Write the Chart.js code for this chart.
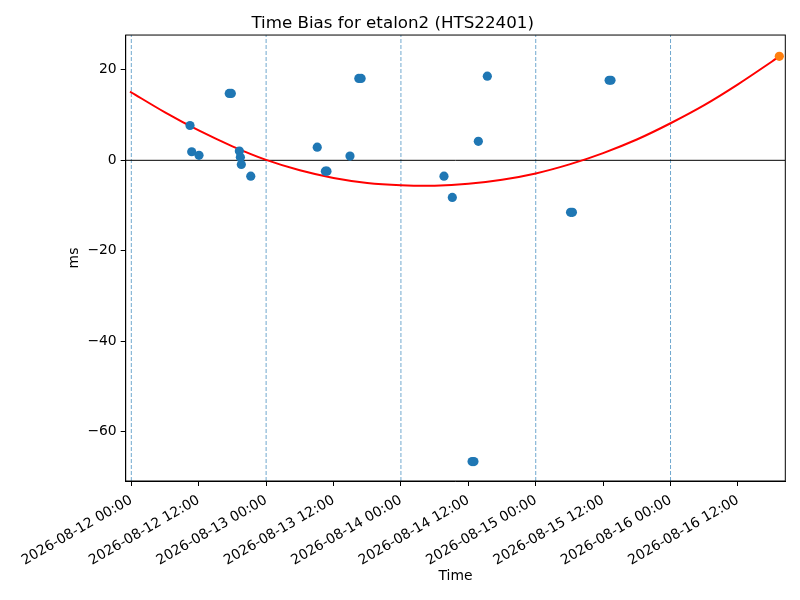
<!DOCTYPE html>
<html lang="en">
  <head>
    <meta charset="UTF-8" />
    <title>Time Bias for etalon2 (HTS22401)</title>
    <script src="https://cdn.jsdelivr.net/npm/chart.js"></script>
    <style>
      html, body { margin: 0; padding: 0; background: #fff; }
    </style>
  </head>
  <body>
    <canvas id="biasChart" width="800" height="600"></canvas>
    <script>
      // measured time bias samples (blue)
      var sampleTimes = [
        "2026-08-12 10:27", "2026-08-12 10:45", "2026-08-12 12:03",
        "2026-08-12 17:26", "2026-08-12 17:48", "2026-08-12 19:14",
        "2026-08-12 19:25", "2026-08-12 19:35", "2026-08-12 21:16",
        "2026-08-13 09:06", "2026-08-13 10:33", "2026-08-13 10:50",
        "2026-08-13 14:56", "2026-08-13 16:30", "2026-08-13 16:55",
        "2026-08-14 07:40", "2026-08-14 09:09", "2026-08-14 12:40",
        "2026-08-14 13:00", "2026-08-14 13:47", "2026-08-14 15:23",
        "2026-08-15 06:12", "2026-08-15 06:32", "2026-08-15 13:04",
        "2026-08-15 13:24"
      ];
      var sampleBias = [
        7.7, 1.9, 1.1,
        14.8, 14.8, 2.05,
        0.7, -0.9, -3.5,
        2.9, -2.4, -2.4,
        0.95, 18.1, 18.1,
        -3.5, -8.2, -66.6,
        -66.6, 4.2, 18.6,
        -11.5, -11.5, 17.7,
        17.7
      ];

      // latest sample (orange)
      var lastTimes = ["2026-08-16 19:22"];
      var lastBias = [23.0];

      // fitted trend (red)
      var fitTimes = [
        "2026-08-11 23:46", "2026-08-12 06:00", "2026-08-12 12:00",
        "2026-08-12 18:00", "2026-08-13 00:00", "2026-08-13 06:00",
        "2026-08-13 12:00", "2026-08-13 18:00", "2026-08-14 00:00",
        "2026-08-14 06:00", "2026-08-14 12:00", "2026-08-14 18:00",
        "2026-08-15 00:00", "2026-08-15 06:00", "2026-08-15 12:00",
        "2026-08-15 18:00", "2026-08-16 00:00", "2026-08-16 06:00",
        "2026-08-16 12:00", "2026-08-16 18:00", "2026-08-16 19:22"
      ];
      var fitBias = [
        15.2, 10.6, 6.6,
        3.1, 0.1, -2.2,
        -3.9, -5.0, -5.5,
        -5.6, -5.2, -4.3,
        -2.9, -0.9, 1.6,
        4.6, 8.2, 12.2,
        16.8, 21.8, 23.0
      ];

      var dayLines = [
        "2026-08-12 00:00", "2026-08-13 00:00", "2026-08-14 00:00",
        "2026-08-15 00:00", "2026-08-16 00:00"
      ];
      var xTicks = [
        "2026-08-12 00:00", "2026-08-12 12:00", "2026-08-13 00:00",
        "2026-08-13 12:00", "2026-08-14 00:00", "2026-08-14 12:00",
        "2026-08-15 00:00", "2026-08-15 12:00", "2026-08-16 00:00",
        "2026-08-16 12:00"
      ];
      var yTicks = [-60, -40, -20, 0, 20];
      var xRange = ["2026-08-11 23:00", "2026-08-16 20:26"];
      var yRange = [-70.9, 27.7];

      // time strings -> hours since 2026-08-12 00:00 (UTC)
      var baseMs = Date.parse("2026-08-12T00:00:00Z");
      function hours(s) {
        return (Date.parse(s.replace(" ", "T") + ":00Z") - baseMs) / 3600000;
      }
      function label(h) {
        return new Date(baseMs + h * 3600000).toISOString().slice(0, 16).replace("T", " ");
      }
      function pairs(times, vals) {
        return times.map(function (t, i) { return { x: hours(t), y: vals[i] }; });
      }

      var xMin = hours(xRange[0]);
      var xMax = hours(xRange[1]);

      var datasets = [
        {
          label: "samples",
          data: pairs(sampleTimes, sampleBias),
          backgroundColor: "#1f77b4",
          borderWidth: 0,
          pointRadius: 4.6,
          pointHoverRadius: 4.6,
          order: 0
        },
        {
          label: "latest",
          data: pairs(lastTimes, lastBias),
          backgroundColor: "#ff7f0e",
          borderWidth: 0,
          pointRadius: 4.6,
          pointHoverRadius: 4.6,
          order: 0
        },
        {
          label: "fit",
          data: pairs(fitTimes, fitBias),
          showLine: true,
          borderColor: "#ff0000",
          borderWidth: 2,
          pointRadius: 0,
          tension: 0.35,
          order: 1
        },
        {
          label: "zero",
          data: [{ x: xMin, y: 0 }, { x: xMax, y: 0 }],
          showLine: true,
          borderColor: "#000",
          borderWidth: 1,
          pointRadius: 0,
          order: 2
        }
      ];
      dayLines.forEach(function (d) {
        datasets.push({
          label: "day",
          data: [{ x: hours(d), y: yRange[0] }, { x: hours(d), y: yRange[1] }],
          showLine: true,
          borderColor: "rgba(31, 119, 180, 0.8)",
          borderWidth: 0.8,
          borderDash: [4, 2],
          pointRadius: 0,
          order: 3
        });
      });

      // top/right spines
      var framePlugin = {
        id: "frame",
        afterDraw: function (chart) {
          var a = chart.chartArea;
          var ctx = chart.ctx;
          ctx.save();
          ctx.strokeStyle = "#000";
          ctx.lineWidth = 1;
          ctx.strokeRect(a.left, a.top, a.right - a.left, a.bottom - a.top);
          ctx.restore();
        }
      };

      Chart.defaults.color = "#000";
      Chart.defaults.font.family = "'DejaVu Sans', sans-serif";

      new Chart(document.getElementById("biasChart").getContext("2d"), {
        type: "scatter",
        data: { datasets: datasets },
        plugins: [framePlugin],
        options: {
          responsive: false,
          animation: false,
          devicePixelRatio: 1,
          layout: { padding: { left: 0, right: 14.7, top: 0, bottom: 0 } },
          plugins: {
            legend: { display: false },
            tooltip: { enabled: false },
            title: {
              display: true,
              text: "Time Bias for etalon2 (HTS22401)",
              color: "#000",
              font: { size: 16.7, weight: "normal" },
              padding: { top: 14, bottom: 1 }
            }
          },
          scales: {
            x: {
              type: "linear",
              min: xMin,
              max: xMax,
              afterBuildTicks: function (s) {
                s.ticks = xTicks.map(function (t) { return { value: hours(t) }; });
              },
              afterFit: function (s) { s.height = 119; },
              ticks: {
                autoSkip: false,
                maxRotation: 30,
                minRotation: 30,
                padding: 6,
                font: { size: 13.9 },
                callback: function (v) { return label(v); }
              },
              grid: {
                drawOnChartArea: false,
                drawTicks: true,
                tickLength: 5,
                tickColor: "#000",
                tickWidth: 1
              },
              border: { display: true, color: "#000", width: 1 },
              title: {
                display: true,
                text: "Time",
                font: { size: 13.9 },
                padding: { top: 4, bottom: 15 }
              }
            },
            y: {
              min: yRange[0],
              max: yRange[1],
              afterBuildTicks: function (s) {
                s.ticks = yTicks.map(function (v) { return { value: v }; });
              },
              afterFit: function (s) { s.width = 125.7; },
              ticks: {
                padding: 4,
                font: { size: 13.9 },
                callback: function (v) { return v < 0 ? "\u2212" + Math.abs(v) : String(v); }
              },
              grid: {
                drawOnChartArea: false,
                drawTicks: true,
                tickLength: 5,
                tickColor: "#000",
                tickWidth: 1
              },
              border: { display: true, color: "#000", width: 1 },
              title: {
                display: true,
                text: "ms",
                font: { size: 13.9 },
                padding: { top: 65.7, bottom: 4 }
              }
            }
          }
        }
      });
    </script>
  </body>
</html>
